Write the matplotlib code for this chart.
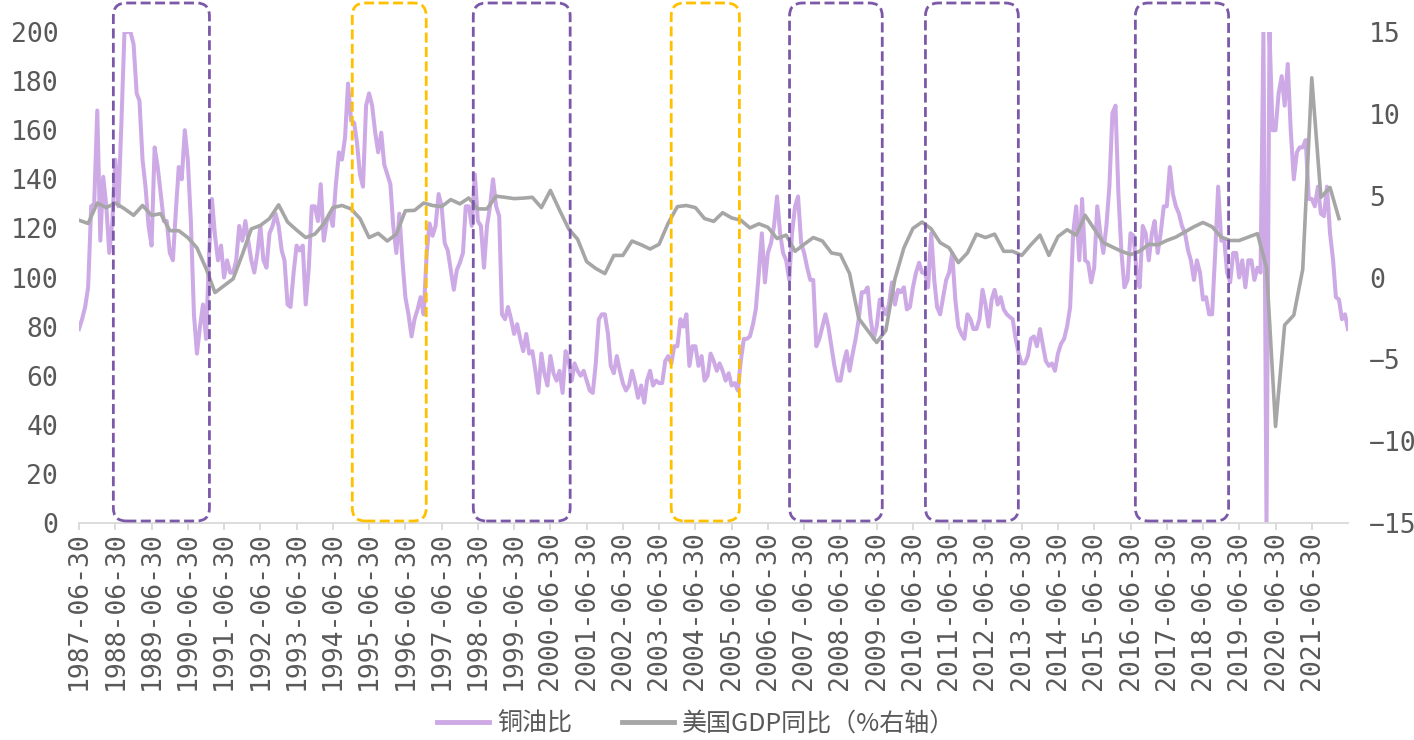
import matplotlib
matplotlib.use('Agg')
import matplotlib.pyplot as plt
import matplotlib.dates as mdates
from matplotlib.patches import FancyBboxPatch
from matplotlib.transforms import IdentityTransform
from matplotlib.lines import Line2D
import pandas as pd

plt.rcParams['font.family'] = ['Noto Sans CJK SC', 'DejaVu Sans']

# ---------------- data ----------------
ratio_start = '1987-06-30'   # monthly, month-end
copper_oil_ratio = [
    79, 83, 88, 96, 129, 130, 168, 115, 141, 129, 110, 123,
    148, 129, 164, 200, 200, 200, 195, 175, 172, 148, 137, 121,
    113, 153, 145, 134, 123, 123, 110, 107, 126, 145, 140, 160,
    148, 123, 85, 69, 80, 89, 75, 110, 132, 117, 107, 113,
    100, 107, 102, 102, 107, 121, 115, 123, 115, 107, 102, 110,
    121, 107, 104, 118, 121, 126, 121, 111, 107, 89, 88, 102,
    113, 111, 113, 89, 104, 129, 129, 123, 138, 115, 123, 126,
    121, 138, 151, 148, 157, 179, 164, 163, 155, 142, 137, 170,
    175, 170, 159, 151, 159, 146, 142, 138, 121, 110, 126, 107,
    92, 85, 76, 83, 87, 92, 85, 110, 122, 117, 121, 134,
    129, 114, 111, 103, 95, 103, 106, 110, 129, 129, 121, 142,
    123, 121, 104, 121, 129, 140, 129, 125, 85, 83, 88, 83,
    77, 81, 75, 70, 77, 69, 70, 62, 53, 69, 61, 56,
    68, 61, 58, 62, 53, 70, 66, 58, 65, 62, 60, 62,
    58, 54, 53, 65, 83, 85, 85, 77, 64, 61, 68, 62,
    57, 54, 56, 62, 57, 51, 56, 49, 58, 62, 56, 58,
    57, 57, 66, 68, 65, 72, 72, 83, 80, 85, 64, 72,
    72, 64, 68, 58, 60, 69, 66, 62, 65, 62, 58, 61,
    56, 57, 54, 66, 75, 75, 76, 81, 87, 102, 118, 98,
    110, 114, 121, 133, 118, 110, 107, 99, 118, 129, 133, 114,
    110, 104, 99, 99, 72, 75, 80, 85, 80, 72, 64, 58,
    58, 65, 70, 62, 69, 75, 83, 94, 94, 96, 83, 75,
    80, 91, 88, 85, 89, 98, 89, 95, 94, 96, 87, 88,
    96, 102, 106, 102, 102, 96, 118, 99, 88, 85, 92, 99,
    102, 110, 91, 80, 77, 75, 85, 83, 79, 79, 83, 95,
    89, 80, 91, 95, 89, 92, 87, 85, 84, 83, 75, 69,
    65, 65, 68, 75, 76, 72, 79, 72, 66, 64, 65, 62,
    69, 73, 75, 80, 88, 118, 129, 107, 132, 107, 106, 98,
    104, 129, 118, 110, 121, 137, 167, 170, 134, 110, 96, 99,
    118, 117, 102, 96, 121, 118, 107, 118, 123, 110, 118, 129,
    129, 145, 134, 129, 126, 121, 118, 111, 107, 99, 107, 102,
    91, 92, 85, 85, 110, 137, 115, 115, 102, 98, 110, 110,
    100, 107, 96, 107, 107, 99, 104, 102, 200, 0, 200, 160,
    160, 175, 182, 170, 187, 160, 140, 151, 153, 153, 156, 132,
    132, 129, 137, 126, 125, 137, 118, 107, 92, 91, 83, 85, 79,
]

gdp_start = '1987-06-30'     # quarterly, quarter-end
us_gdp_yoy = [
    3.5, 3.3, 4.55,
    4.27, 4.55, 4.2, 3.8,
    4.4, 3.8, 3.9, 2.86,
    2.86, 2.44, 1.81, 0.55,
    -0.92, -0.5, -0.08, 1.4,
    2.97, 3.18, 3.6, 4.44,
    3.39, 2.9, 2.44, 2.65,
    3.28, 4.27, 4.4, 4.19,
    3.6, 2.44, 2.7, 2.23,
    2.65, 4.08, 4.1, 4.55,
    4.4, 4.33, 4.76, 4.5,
    4.86, 4.19, 4.19, 4.97,
    4.9, 4.82, 4.85, 4.9,
    4.27, 5.32, 4.12, 2.97,
    2.34, 0.97, 0.55, 0.24,
    1.35, 1.35, 2.23, 2.0,
    1.74, 2.03, 3.33, 4.33,
    4.4, 4.27, 3.6, 3.43,
    3.96, 3.64, 3.5, 3.03,
    3.28, 3.07, 2.38, 2.59,
    1.6, 2.03, 2.44, 2.23,
    1.5, 1.4, 0.24, -2.5,
    -3.23, -3.97, -3.23, -0.08,
    1.81, 3.0, 3.39, 2.97,
    2.13, 1.81, 0.91, 1.5,
    2.65, 2.44, 2.65, 1.6,
    1.6, 1.35, 2.0, 2.59,
    1.35, 2.5, 2.92, 2.59,
    3.8, 2.97, 2.13, 1.86,
    1.6, 1.4, 1.6, 2.03,
    2.0, 2.26, 2.47, 2.79,
    3.1, 3.36, 3.1, 2.47,
    2.26, 2.26, 2.47, 2.68,
    0.6, -9.1, -2.9, -2.3,
    0.5, 12.2, 4.9, 5.5,
    3.6,
]

tick_years = list(range(1987, 2022))
tick_labels = [f'{y}-06-30' for y in tick_years]

left_ticks = list(range(0, 201, 20))
right_ticks = list(range(-15, 16, 5))

legend_labels = ['铜油比', '美国GDP同比（%右轴）']

# highlighted periods (start, end, colour)
box_periods = [
    ('1988-06-10', '1991-02-03', '#7B58A8'),
    ('1995-01-12', '1997-01-26', '#FFC000'),
    ('1998-05-15', '2001-01-15', '#7B58A8'),
    ('2003-10-30', '2005-09-16', '#FFC000'),
    ('2007-02-03', '2009-08-25', '#7B58A8'),
    ('2010-11-03', '2013-05-27', '#7B58A8'),
    ('2016-08-18', '2019-03-15', '#7B58A8'),
]

# ---------------- plot ----------------
W, H = 1414, 740
fig = plt.figure(figsize=(W / 100, H / 100), dpi=100)
ax = fig.add_axes([79 / W, 217 / H, (1348 - 79) / W, 491 / H])
ax2 = ax.twinx()

ratio_dates = pd.date_range(ratio_start, periods=len(copper_oil_ratio),
                            freq=pd.offsets.MonthEnd())
gdp_dates = pd.date_range(gdp_start, periods=len(us_gdp_yoy),
                          freq=pd.offsets.QuarterEnd(startingMonth=3))

purple = '#CDAAE6'
grey = '#A6A6A6'
txt = '#595959'
tick_font = ['DejaVu Sans Mono', 'DejaVu Sans']
fs = 19

l1, = ax.plot(ratio_dates, copper_oil_ratio, color=purple, lw=2.9,
              solid_joinstyle='round')
l2, = ax2.plot(gdp_dates, us_gdp_yoy, color=grey, lw=2.6,
               solid_joinstyle='round')

x0 = pd.Timestamp('1987-06-30')
x1 = pd.Timestamp('2022-06-30')
ax.set_xlim(x0, x1)
ax.set_ylim(0, 200)
ax2.set_ylim(-15, 15)
ax.set_yticks(left_ticks)
ax2.set_yticks(right_ticks)

ax.set_xticks([pd.Timestamp(f'{y}-06-30') for y in tick_years])
ax.set_xticklabels(tick_labels, rotation=90)

for a in (ax, ax2):
    for s in ('top', 'left', 'right'):
        a.spines[s].set_visible(False)
ax2.spines['bottom'].set_visible(False)
ax.spines['bottom'].set_color('#D9D9D9')
ax.spines['bottom'].set_linewidth(1.3)

ax.tick_params(axis='y', length=0, labelsize=fs, labelcolor=txt, pad=15)
ax2.tick_params(axis='y', length=0, labelsize=fs, labelcolor=txt, pad=15)
ax.tick_params(axis='x', length=5, width=1.3, color='#D9D9D9',
               labelsize=fs, labelcolor=txt, pad=1)
for lab in ax.get_xticklabels() + ax.get_yticklabels() + ax2.get_yticklabels():
    lab.set_family(tick_font)

# dashed rounded boxes in pixel space
trans = ax.transData
for start, end, col in box_periods:
    xs = trans.transform((mdates.date2num(pd.Timestamp(start)), 0))[0]
    xe = trans.transform((mdates.date2num(pd.Timestamp(end)), 0))[0]
    yb = H - 521
    yt = H - 3
    p = FancyBboxPatch((xs, yb), xe - xs, yt - yb,
                       boxstyle='round,pad=0,rounding_size=13',
                       transform=IdentityTransform(), fill=False,
                       edgecolor=col, linewidth=2.0,
                       linestyle=(0, (3.6, 1.6)), zorder=10)
    fig.add_artist(p)

fig.legend([Line2D([], [], color=purple, lw=3.5),
            Line2D([], [], color=grey, lw=3.5)],
           legend_labels, loc='center', bbox_to_anchor=(696 / W, 16 / H),
           ncol=2, frameon=False, fontsize=18, labelcolor=txt,
           handlelength=2.1, handletextpad=0.3, columnspacing=2.0,
           borderpad=0.2)

fig.savefig('out.png', dpi=100)
